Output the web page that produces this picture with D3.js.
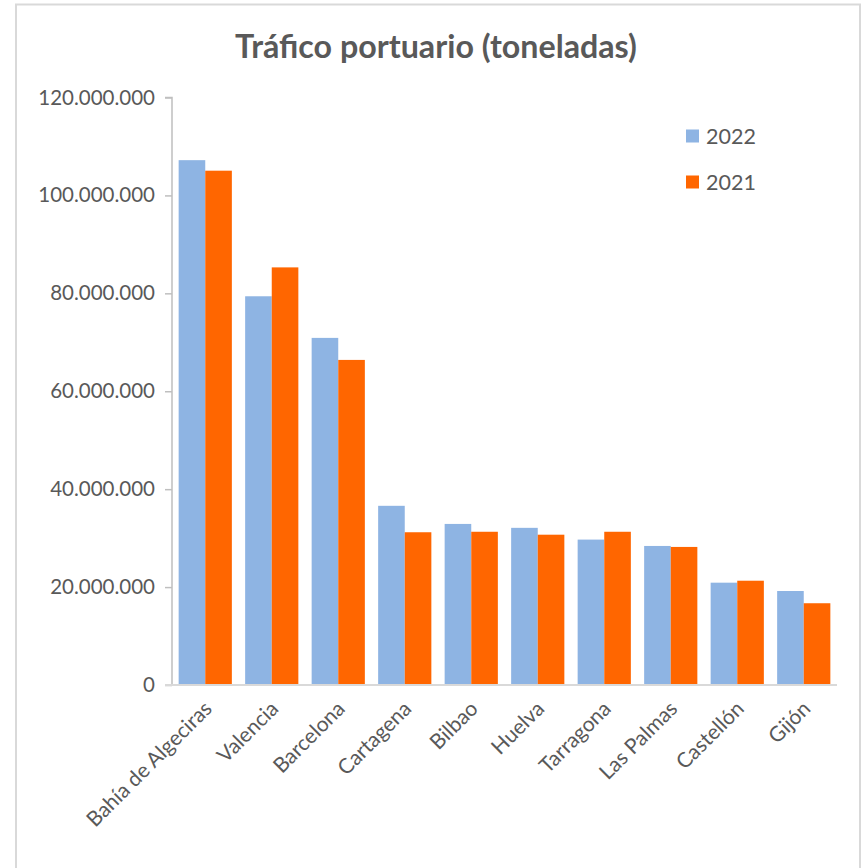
<!DOCTYPE html>
<html><head><meta charset="utf-8">
<script src="https://cdn.jsdelivr.net/npm/d3@7"></script>
<style>html,body{margin:0;padding:0;background:#fff;}svg{display:block;}</style>
</head><body>
<svg id="chart" width="861" height="868"></svg>
<script>
const categories = ["Bahía de Algeciras","Valencia","Barcelona","Cartagena","Bilbao","Huelva","Tarragona","Las Palmas","Castellón","Gijón"];
const series2022 = [107200000,79400000,70900000,36600000,32900000,32100000,29700000,28400000,20900000,19200000];
const series2021 = [105050000,85300000,66400000,31200000,31300000,30700000,31300000,28200000,21300000,16700000];
const seriesNames = ["2022","2021"];
const yTicks = [0,20000000,40000000,60000000,80000000,100000000,120000000];
const title = "Tráfico portuario (toneladas)";
const colors = ["#8EB4E3","#FF6600"];
const textColor = "#595959";
const font = "Lato, 'Open Sans', sans-serif";

const svg = d3.select("#chart");
// outer border
svg.append("rect").attr("x",16).attr("y",4.5).attr("width",844).attr("height",880)
  .attr("fill","#fff").attr("stroke","#d9d9d9").attr("stroke-width",2);

const pLeft = 172, pRight = 837, pTop = 97.5, pBottom = 685;
const x = d3.scaleBand().domain(categories).range([pLeft,pRight]).paddingInner(0.2).paddingOuter(0.1);
const xs = d3.scaleBand().domain(seriesNames).range([0,x.bandwidth()]);
const y = d3.scaleLinear().domain([0,120000000]).range([pBottom,pTop]);

const fmt = v => d3.format(",")(v).replace(/,/g,".");

// title
const t = svg.append("text").attr("x",436).attr("y",58).attr("text-anchor","middle")
  .attr("font-family",font).attr("font-weight","bold").attr("font-size",27)
  .attr("fill",textColor).text(title);
const tl = t.node().getComputedTextLength();
t.attr("font-size", 27*402/tl);

// y axis
const yAxis = svg.append("g").attr("transform",`translate(${pLeft},0)`)
  .call(d3.axisLeft(y).tickValues(yTicks).tickFormat(fmt).tickSize(7).tickPadding(10));
yAxis.select(".domain").attr("stroke","#bfbfbf").attr("stroke-width",1.5).attr("d",`M-7,${pTop}H0V${pBottom}H-7`);
yAxis.selectAll(".tick line").attr("stroke","#bfbfbf").attr("stroke-width",1.5);
yAxis.selectAll(".tick text").attr("font-family",font).attr("font-size",20.5).attr("fill",textColor);

// bars
const data = categories.map((c,i)=>({c, vals:[series2022[i],series2021[i]]}));
const g = svg.append("g");
g.selectAll("g").data(data).join("g").attr("transform",d=>`translate(${x(d.c)},0)`)
  .selectAll("rect").data(d=>d.vals.map((v,j)=>({v,s:seriesNames[j],j})))
  .join("rect")
  .attr("x",d=>xs(d.s)).attr("width",xs.bandwidth())
  .attr("y",d=>y(d.v)).attr("height",d=>pBottom-y(d.v))
  .attr("fill",d=>colors[d.j]);

// x axis
const xAxis = svg.append("g").attr("transform",`translate(0,${pBottom})`)
  .call(d3.axisBottom(x).tickSize(0).tickPadding(0));
xAxis.select(".domain").attr("stroke","#d9d9d9").attr("stroke-width",2).attr("d",`M${pLeft-7},0H${pRight}`);
xAxis.selectAll(".tick text").attr("font-family",font).attr("font-size",21).attr("fill",textColor)
  .attr("text-anchor","end").attr("dy","0")
  .attr("transform","translate(8,25) rotate(-45)");

// legend
const leg = svg.append("g");
seriesNames.forEach((s,i)=>{
  const ly = 136 + i*46;
  leg.append("rect").attr("x",686).attr("y",ly-6.5).attr("width",13).attr("height",13).attr("fill",colors[i]);
  leg.append("text").attr("x",706).attr("y",ly).attr("dy","0.35em")
    .attr("font-family",font).attr("font-size",21.5).attr("fill",textColor).text(s);
});
</script>
</body></html>
